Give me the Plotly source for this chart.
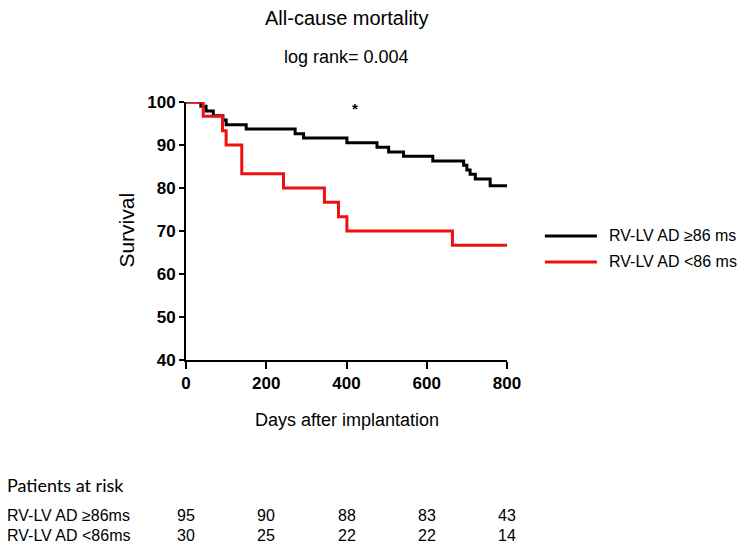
import plotly.graph_objects as go

# Kaplan-Meier step data (days, survival %)
high_days = [0, 37, 50, 68, 92, 100, 150, 272, 293, 401, 476, 505, 542, 615, 692, 700, 708, 721, 758, 800]
high_surv = [100, 99.0, 97.9, 96.8, 95.8, 94.7, 93.7, 92.6, 91.6, 90.5, 89.5, 88.4, 87.4, 86.3, 85.3, 84.2, 83.2, 82.1, 80.5, 80.5]

low_days = [0, 43, 91, 100, 139, 243, 345, 380, 401, 664, 800]
low_surv = [100, 96.7, 93.3, 90.0, 83.3, 80.0, 76.7, 73.3, 70.0, 66.7, 66.7]

high_name = "RV-LV AD ≥86 ms"
low_name = "RV-LV AD <86 ms"

# Patients at risk table
risk_days = [0, 200, 400, 600, 800]
risk_high = [95, 90, 88, 83, 43]
risk_low = [30, 25, 22, 22, 14]
risk_labels = ["RV-LV AD ≥86ms", "RV-LV AD <86ms"]

x_ticks = [0, 200, 400, 600, 800]
y_ticks = [40, 50, 60, 70, 80, 90, 100]

ARIAL = "Liberation Sans, Arial, sans-serif"

fig = go.Figure()
fig.add_trace(go.Scatter(x=high_days, y=high_surv, mode="lines", name=high_name,
                         line=dict(color="black", width=3, shape="hv"), cliponaxis=False))
fig.add_trace(go.Scatter(x=low_days, y=low_surv, mode="lines", name=low_name,
                         line=dict(color="#ee1111", width=3, shape="hv"), cliponaxis=False))

fig.update_layout(
    width=741, height=552,
    margin=dict(l=186, r=234, t=102, b=192),
    paper_bgcolor="white", plot_bgcolor="white",
    showlegend=False,
    font=dict(family=ARIAL, color="black"),
)
fig.update_xaxes(range=[0, 800], tickvals=x_ticks, showgrid=False, zeroline=False,
                 showline=True, linecolor="black", linewidth=2,
                 ticks="outside", ticklen=7, tickwidth=2, tickcolor="black",
                 tickfont=dict(family=ARIAL, size=17, weight="bold"))
fig.update_yaxes(range=[40, 100], tickvals=y_ticks, showgrid=False, zeroline=False,
                 showline=True, linecolor="black", linewidth=2,
                 ticks="outside", ticklen=5, tickwidth=2, tickcolor="black",
                 tickfont=dict(family=ARIAL, size=17, weight="bold"))

ann = []
ann.append(dict(text="All-cause mortality", xref="paper", yref="paper", x=0.5, y=1.326,
                yanchor="middle", showarrow=False, font=dict(size=20)))
ann.append(dict(text="log rank= 0.004", xref="paper", yref="paper", x=0.5, y=1.174,
                yanchor="middle", showarrow=False, font=dict(size=18)))
ann.append(dict(text="*", xref="x", yref="y", x=420, y=98.6, showarrow=False,
                yanchor="middle", font=dict(size=15, weight="bold")))
ann.append(dict(text="Survival", xref="paper", yref="paper", x=-0.185, y=0.504, textangle=-90,
                xanchor="center", yanchor="middle", showarrow=False, font=dict(size=21)))
ann.append(dict(text="Days after implantation", xref="paper", yref="paper", x=0.5, y=-0.233,
                yanchor="middle", showarrow=False, font=dict(size=18)))

# Legend drawn beside the plot
shapes = []
for name, color, yp in [(high_name, "black", 0.481), (low_name, "#ee1111", 0.380)]:
    shapes.append(dict(type="line", xref="paper", yref="paper", x0=1.118, x1=1.280, y0=yp, y1=yp,
                       line=dict(color=color, width=3)))
    ann.append(dict(text=name, xref="paper", yref="paper", x=1.312, y=yp, xanchor="left",
                    yanchor="middle", showarrow=False, font=dict(size=16)))

# Patients at risk table
ann.append(dict(text="Patients at risk", xref="paper", yref="paper", x=-0.565, y=-0.484,
                xanchor="left", yanchor="middle", showarrow=False,
                font=dict(family="Lato, Open Sans, sans-serif", size=18)))
for label, counts, yp in [(risk_labels[0], risk_high, -0.601), (risk_labels[1], risk_low, -0.682)]:
    ann.append(dict(text=label, xref="paper", yref="paper", x=-0.565, y=yp,
                    xanchor="left", yanchor="middle", showarrow=False, font=dict(size=16)))
    for d, c in zip(risk_days, counts):
        ann.append(dict(text=str(c), xref="x", yref="paper", x=d, y=yp, xanchor="center",
                        yanchor="middle", showarrow=False, font=dict(size=16)))

fig.update_layout(annotations=ann, shapes=shapes)
fig.write_html("out.html")
